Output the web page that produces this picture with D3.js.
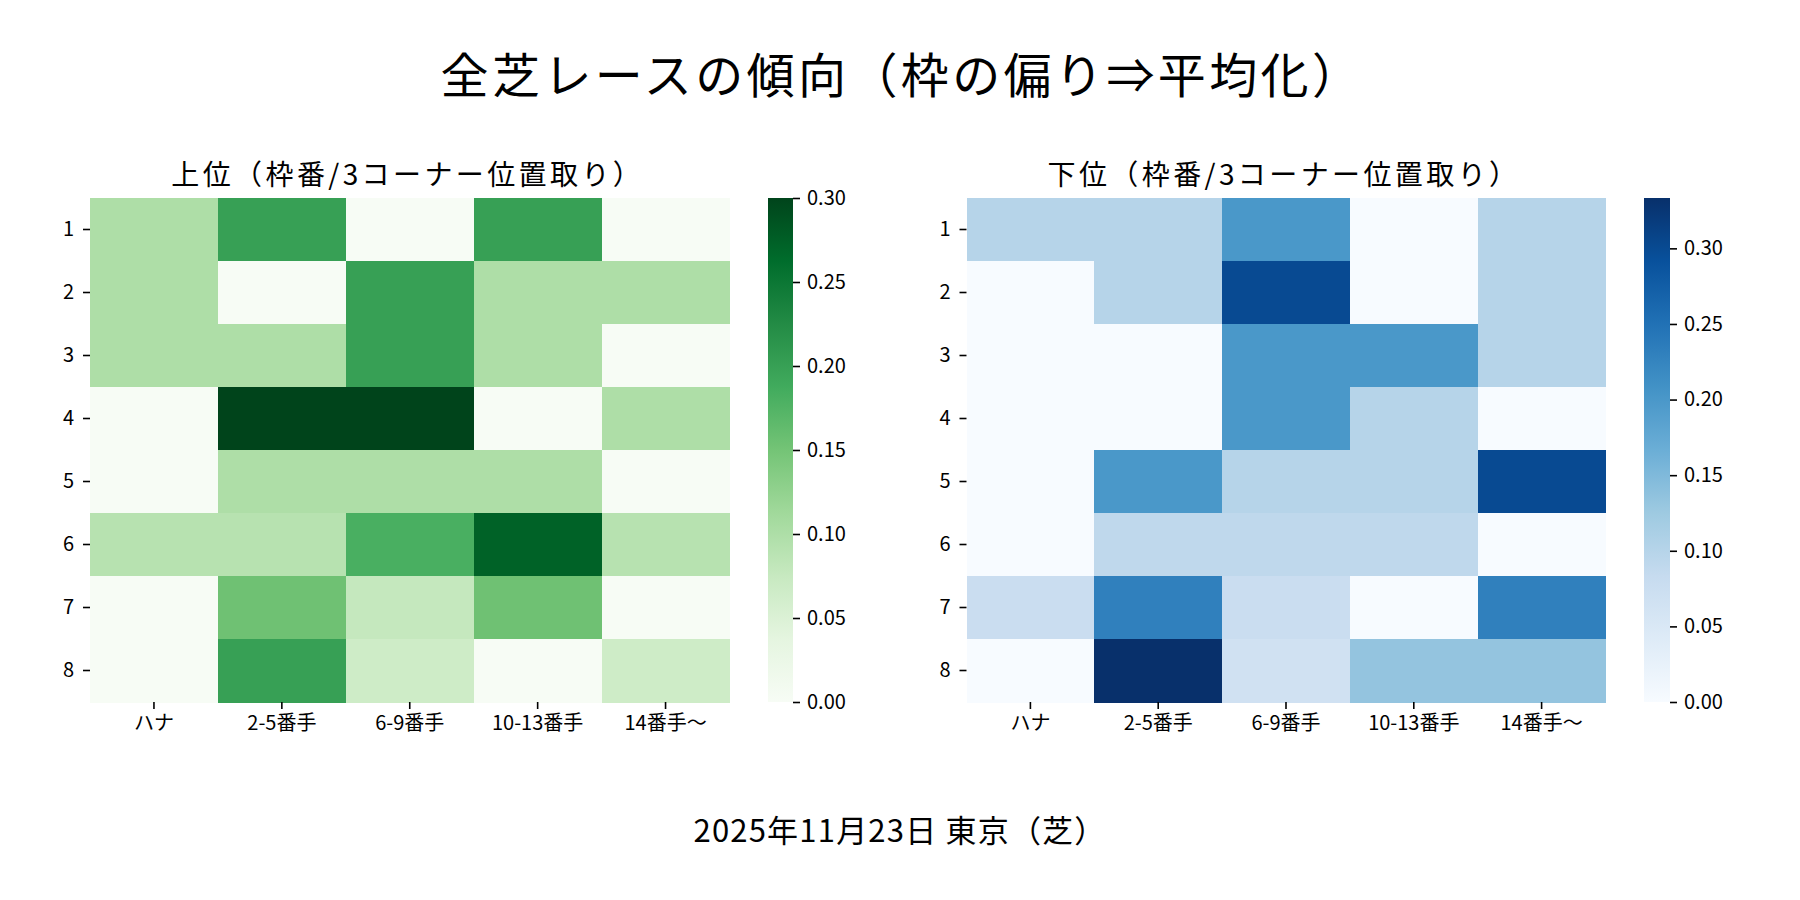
<!DOCTYPE html>
<html>
<head>
<meta charset="utf-8">
<script src="https://cdn.jsdelivr.net/npm/d3@7"></script>
<style>
  html, body { margin: 0; padding: 0; background: #fff; }
  svg { display: block; font-family: "Noto Sans CJK JP", "Noto Sans", sans-serif; }
</style>
</head>
<body>
<svg id="chart" width="1800" height="900"></svg>
<script>
// ---- data ----
const suptitle = "全芝レースの傾向（枠の偏り⇒平均化）";
const footer = "2025年11月23日 東京（芝）";
const columns = ["ハナ", "2-5番手", "6-9番手", "10-13番手", "14番手～"];
const rows = ["1", "2", "3", "4", "5", "6", "7", "8"];
const topTitle = "上位（枠番/3コーナー位置取り）";
const bottomTitle = "下位（枠番/3コーナー位置取り）";
const topValues = [
  [0.10, 0.20, 0.00, 0.20, 0.00],
  [0.10, 0.00, 0.20, 0.10, 0.10],
  [0.10, 0.10, 0.20, 0.10, 0.00],
  [0.00, 0.30, 0.30, 0.00, 0.10],
  [0.00, 0.10, 0.10, 0.10, 0.00],
  [0.0909, 0.0909, 0.1818, 0.2727, 0.0909],
  [0.00, 0.1538, 0.0769, 0.1538, 0.00],
  [0.00, 0.20, 0.0667, 0.00, 0.0667]
];
const bottomValues = [
  [0.10, 0.10, 0.20, 0.00, 0.10],
  [0.00, 0.10, 0.30, 0.00, 0.10],
  [0.00, 0.00, 0.20, 0.20, 0.10],
  [0.00, 0.00, 0.20, 0.10, 0.00],
  [0.00, 0.20, 0.10, 0.10, 0.30],
  [0.00, 0.0909, 0.0909, 0.0909, 0.00],
  [0.0769, 0.2308, 0.0769, 0.00, 0.2308],
  [0.00, 0.3333, 0.0667, 0.1333, 0.1333]
];
const topMax = 0.30;
const bottomMax = 0.3333;
const cbTicks = [0.00, 0.05, 0.10, 0.15, 0.20, 0.25, 0.30];
const greens = ["#f7fcf5","#e5f5e0","#c7e9c0","#a1d99b","#74c476","#41ab5d","#238b45","#006d2c","#00441b"];
const blues  = ["#f7fbff","#deebf7","#c6dbef","#9ecae1","#6baed6","#4292c6","#2171b5","#08519c","#08306b"];

// ---- layout ----
const svg = d3.select("#chart");
const yTop = 198, yBottom = 702;

svg.append("text")
  .attr("x", 902).attr("y", 93)
  .attr("text-anchor", "middle")
  .attr("font-size", 48)
  .attr("letter-spacing", 3.4)
  .attr("fill", "#000")
  .text(suptitle);

svg.append("text")
  .attr("x", 900).attr("y", 842)
  .attr("text-anchor", "middle")
  .attr("font-size", 31)
  .attr("letter-spacing", 1.2)
  .attr("fill", "#000")
  .text(footer);

function heatmap(cfg) {
  const g = svg.append("g");
  const x = d3.scaleBand().domain(columns).range([cfg.x0, cfg.x1]);
  const y = d3.scaleBand().domain(rows).range([yTop, yBottom]);
  const stops = cfg.colors.map((c, i) => i / (cfg.colors.length - 1) * cfg.vmax);
  const color = d3.scaleLinear().domain(stops).range(cfg.colors)
    .interpolate(d3.interpolateRgb).clamp(true);

  const cells = [];
  cfg.values.forEach((r, ri) => r.forEach((v, ci) => cells.push({row: rows[ri], col: columns[ci], v})));
  g.selectAll("rect.cell").data(cells).join("rect")
    .attr("class", "cell")
    .attr("x", d => x(d.col))
    .attr("y", d => y(d.row))
    .attr("width", x.bandwidth() + 0.5)
    .attr("height", y.bandwidth() + 0.5)
    .attr("fill", d => color(d.v))
    .attr("shape-rendering", "crispEdges");

  const xa = g.append("g").attr("transform", `translate(0,${yBottom})`)
    .call(d3.axisBottom(x).tickSize(7).tickPadding(7));
  xa.select(".domain").remove();
  xa.selectAll("text").attr("font-size", 20).attr("fill", "#000").attr("font-family", "Noto Sans CJK JP");
  xa.selectAll("line").attr("stroke", "#000").attr("stroke-width", 1.6);

  const ya = g.append("g").attr("transform", `translate(${cfg.x0},0)`)
    .call(d3.axisLeft(y).tickSize(7).tickPadding(9));
  ya.select(".domain").remove();
  ya.selectAll("text").attr("font-size", 20).attr("fill", "#000").attr("font-family", "Noto Sans CJK JP");
  ya.selectAll("line").attr("stroke", "#000").attr("stroke-width", 1.6);

  g.append("text")
    .attr("x", (cfg.x0 + cfg.x1) / 2 - 2).attr("y", 185)
    .attr("text-anchor", "middle")
    .attr("font-size", 28)
    .attr("letter-spacing", 3.4)
    .attr("fill", "#000")
    .text(cfg.title);

  // colorbar
  const gid = "grad-" + cfg.id;
  const grad = svg.append("defs").append("linearGradient")
    .attr("id", gid).attr("x1", 0).attr("y1", 1).attr("x2", 0).attr("y2", 0);
  cfg.colors.forEach((c, i) => grad.append("stop")
    .attr("offset", i / (cfg.colors.length - 1)).attr("stop-color", c));
  const cy = d3.scaleLinear().domain([0, cfg.vmax]).range([yBottom, yTop]);
  g.append("rect")
    .attr("x", cfg.cb0).attr("y", yTop)
    .attr("width", cfg.cb1 - cfg.cb0).attr("height", yBottom - yTop)
    .attr("fill", `url(#${gid})`);
  const ca = g.append("g").attr("transform", `translate(${cfg.cb1},0)`)
    .call(d3.axisRight(cy).tickValues(cbTicks).tickFormat(d3.format(".2f")).tickSize(7).tickPadding(7));
  ca.select(".domain").remove();
  ca.selectAll("text").attr("font-size", 20).attr("fill", "#000").attr("font-family", "Noto Sans CJK JP");
  ca.selectAll("line").attr("stroke", "#000").attr("stroke-width", 1.6);
}

heatmap({id: "top", x0: 90, x1: 729.5, cb0: 768, cb1: 793, values: topValues, vmax: topMax, colors: greens, title: topTitle});
heatmap({id: "bottom", x0: 966.5, x1: 1605.5, cb0: 1644, cb1: 1670, values: bottomValues, vmax: bottomMax, colors: blues, title: bottomTitle});
</script>
</body>
</html>
